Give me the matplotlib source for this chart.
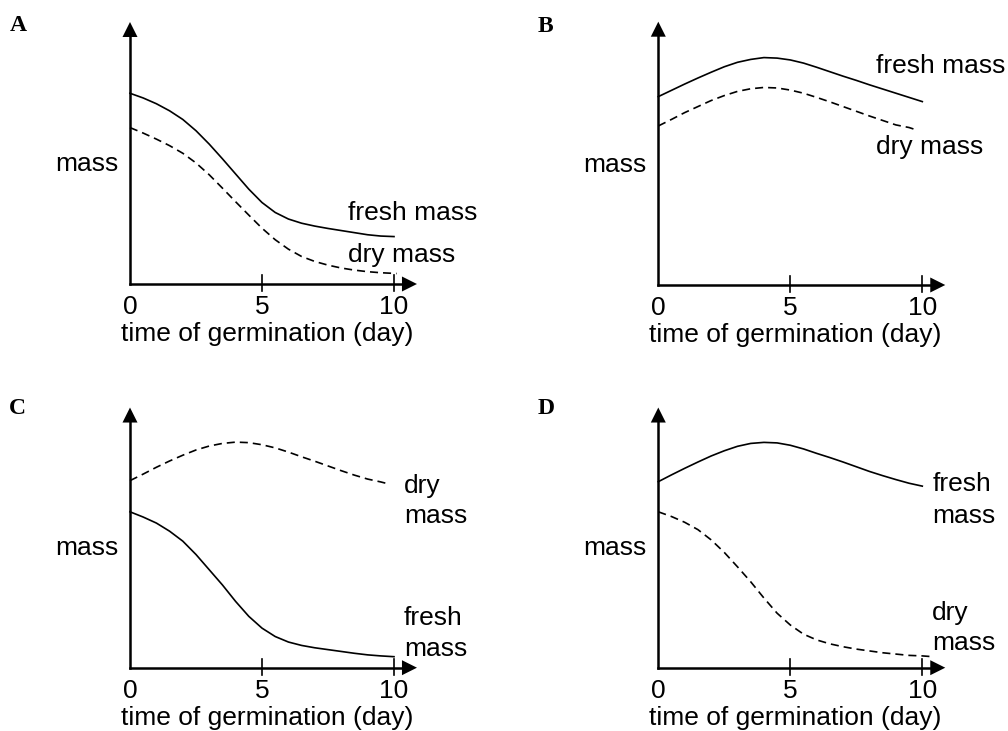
import matplotlib
matplotlib.use("Agg")
import matplotlib.pyplot as plt

plt.rcParams['lines.scale_dashes'] = False

# ---------------- data (mass in arbitrary units, day) ----------------
days = [0, 0.5, 1, 1.5, 2, 2.5, 3, 3.5, 4, 4.5, 5, 5.5, 6, 6.5, 7, 7.5, 8, 8.5, 9, 9.5, 10]
tick_values = [0, 5, 10]
tick_labels = ["0", "5", "10"]

A_fresh = [7.28, 7.10, 6.88, 6.61, 6.28, 5.85, 5.34, 4.78, 4.20, 3.62, 3.11, 2.73,
           2.48, 2.32, 2.21, 2.12, 2.04, 1.96, 1.88, 1.83, 1.81]
A_dry_days = days[:-1] + [10.1]
A_dry = [5.97, 5.76, 5.53, 5.28, 4.99, 4.62, 4.17, 3.66, 3.14, 2.63, 2.13, 1.69,
         1.33, 1.05, 0.86, 0.72, 0.61, 0.53, 0.47, 0.43, 0.40]

B_fresh = [7.19, 7.43, 7.67, 7.90, 8.12, 8.33, 8.50, 8.61, 8.68, 8.66, 8.59, 8.47,
           8.31, 8.14, 7.97, 7.81, 7.64, 7.48, 7.32, 7.16, 7.00]
B_dry_days = days[:-1] + [9.77]
B_dry = [6.07, 6.32, 6.58, 6.81, 7.04, 7.23, 7.39, 7.49, 7.54, 7.52, 7.44, 7.32,
         7.16, 6.99, 6.81, 6.63, 6.45, 6.28, 6.11, 6.01, 5.92]

C_fresh = [5.95, 5.75, 5.52, 5.21, 4.83, 4.32, 3.74, 3.16, 2.53, 1.96, 1.51, 1.19,
           0.98, 0.85, 0.76, 0.69, 0.62, 0.55, 0.49, 0.45, 0.42]
C_dry_days = days[:-1] + [9.85]
C_dry = [7.14, 7.39, 7.65, 7.89, 8.11, 8.31, 8.46, 8.56, 8.61, 8.59, 8.51, 8.39,
         8.23, 8.05, 7.88, 7.70, 7.52, 7.35, 7.20, 7.09, 7.00]

D_fresh = [7.10, 7.36, 7.61, 7.85, 8.08, 8.28, 8.45, 8.56, 8.60, 8.58, 8.49, 8.35,
           8.18, 8.02, 7.85, 7.67, 7.49, 7.33, 7.18, 7.04, 6.93]
D_dry_days = days + [10.4]
D_dry = [5.95, 5.77, 5.55, 5.27, 4.88, 4.40, 3.85, 3.28, 2.66, 2.08, 1.63, 1.28,
         1.06, 0.91, 0.80, 0.71, 0.64, 0.57, 0.52, 0.47, 0.45, 0.42]

# ---------------- layout ----------------
W, H = 1008, 731
XPX, YPX = 26.4, 26.2          # pixels per data unit
XLIM = (-4.9, 12.8)
YLIM = (-2.6, 10.6)
SANS = ['Liberation Sans', 'DejaVu Sans']
SERIF = ['Liberation Serif', 'DejaVu Serif']
FS = 19
LW_AX = 1.8
LW_C = 1.2
DASH = (5.8, 3.6)

fig = plt.figure(figsize=(W / 100, H / 100), dpi=100)


def make_axes(ox, oy):
    left = ox + XLIM[0] * XPX
    width = (XLIM[1] - XLIM[0]) * XPX
    bottom_px = oy - YLIM[0] * YPX   # from top
    height = (YLIM[1] - YLIM[0]) * YPX
    ax = fig.add_axes([left / W, (H - bottom_px) / H, width / W, height / H])
    ax.set_xlim(*XLIM)
    ax.set_ylim(*YLIM)
    ax.axis('off')
    ax.patch.set_alpha(0)
    return ax


def draw_frame(ax, letter, ytip, xtip=10.87):
    hl_x = 15 / XPX
    hw_y = 7.5 / YPX
    hl_y = 15 / YPX
    hw_x = 7.5 / XPX
    ax.plot([0, xtip - hl_x + 0.05], [0, 0], color='black', lw=LW_AX,
            solid_capstyle='projecting', clip_on=False)
    ax.plot([0, 0], [0, ytip - hl_y + 0.05], color='black', lw=LW_AX,
            solid_capstyle='projecting', clip_on=False)
    ax.fill([xtip - hl_x, xtip, xtip - hl_x], [hw_y, 0, -hw_y], color='black',
            lw=0, clip_on=False)
    ax.fill([-hw_x, 0, hw_x], [ytip - hl_y, ytip, ytip - hl_y], color='black',
            lw=0, clip_on=False)
    for t, lab in zip(tick_values, tick_labels):
        if t > 0:
            ax.plot([t, t], [-7 / YPX, 9 / YPX], color='black', lw=1.2, clip_on=False)
        ax.text(t, -1.14, lab, ha='center', va='baseline', fontsize=FS, family=SANS)
    ax.text(5.2, -2.19, 'time of germination (day)', ha='center', va='baseline',
            fontsize=FS, family=SANS)
    ax.text(-0.45, 4.31, 'mass', ha='right', va='baseline', fontsize=FS, family=SANS)
    ax.text(-4.57, 9.67, letter, ha='left', va='baseline', fontsize=17,
            family=SERIF, fontweight='bold')


def label(ax, x, y, s):
    ax.text(x, y, s, ha='left', va='baseline', fontsize=FS, family=SANS)


# Panel A
axA = make_axes(130, 284)
draw_frame(axA, 'A', 10.0)
axA.plot(days, A_fresh, color='black', lw=LW_C)
axA.plot(A_dry_days, A_dry, color='black', lw=LW_C, dashes=DASH)
label(axA, 8.25, 2.44, 'fresh mass')
label(axA, 8.25, 0.85, 'dry mass')

# Panel B
axB = make_axes(658.3, 285)
draw_frame(axB, 'B', 10.05)
axB.plot(days, B_fresh, color='black', lw=LW_C)
axB.plot(B_dry_days, B_dry, color='black', lw=LW_C, dashes=DASH)
label(axB, 8.23, 8.08, 'fresh mass')
label(axB, 8.23, 4.99, 'dry mass')

# Panel C
axC = make_axes(130, 667.7)
draw_frame(axC, 'C', 9.93)
axC.plot(days, C_fresh, color='black', lw=LW_C)
axC.plot(C_dry_days, C_dry, color='black', lw=LW_C, dashes=DASH)
label(axC, 10.38, 6.66, 'dry')
label(axC, 10.38, 5.51, 'mass')
label(axC, 10.38, 1.63, 'fresh')
label(axC, 10.38, 0.46, 'mass')

# Panel D
axD = make_axes(658.3, 667.7)
draw_frame(axD, 'D', 9.93)
axD.plot(days, D_fresh, color='black', lw=LW_C)
axD.plot(D_dry_days, D_dry, color='black', lw=LW_C, dashes=DASH)
label(axD, 10.38, 6.74, 'fresh')
label(axD, 10.38, 5.51, 'mass')
label(axD, 10.38, 1.82, 'dry')
label(axD, 10.38, 0.68, 'mass')

fig.savefig('out.png', dpi=100)
